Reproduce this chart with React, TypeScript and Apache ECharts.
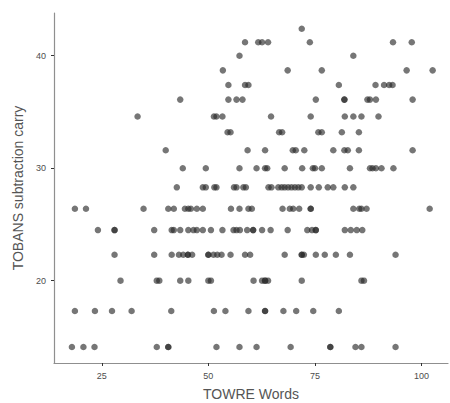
import React, { useEffect, useRef } from "react";
import * as echarts from "echarts";

// TOBANS score levels (y) and TOWRE word scores (x) per level
const level424 = [71.9];
const level412 = [58.6, 61.7, 62.6, 64.0, 73.8, 93.3, 97.7];
const level400 = [57.3, 84.0];
const level387 = [53.4, 68.6, 76.6, 96.5, 102.6];
const level374 = [54.7, 58.6, 59.4, 80.6, 89.2, 91.2, 92.4, 93.2];
const level361 = [43.4, 54.7, 56.6, 58.0, 75.2, 81.9, 81.9, 87.3, 87.9, 89.3, 97.9];
const level346 = [33.4, 51.3, 51.9, 53.3, 64.7, 74.0, 82.0, 84.0, 85.9, 89.9];
const level332 = [54.5, 55.2, 66.6, 67.3, 75.8, 76.6, 81.3, 85.3];
const level316 = [40.0, 59.2, 63.3, 69.8, 70.5, 72.5, 79.3, 81.9, 82.7, 85.3, 97.9];
const level300 = [44.0, 49.4, 57.3, 61.3, 63.3, 63.8, 67.9, 72.0, 74.5, 75.0, 76.6, 83.2, 87.9, 88.5, 89.3, 90.6, 93.4];
const level283 = [42.6, 48.7, 49.4, 51.4, 51.9, 56.0, 56.6, 58.2, 58.8, 64.1, 64.8, 66.4, 67.2, 67.9, 68.7, 69.5, 70.3, 71.1, 71.9, 74.0, 75.9, 78.0, 79.3, 82.0, 84.0];
const level264 = [18.7, 21.3, 34.8, 40.6, 41.9, 44.5, 45.3, 45.9, 47.3, 48.7, 55.3, 57.3, 59.4, 60.2, 67.4, 69.1, 69.9, 71.3, 74.0, 74.0, 84.0, 85.4, 85.9, 87.1, 101.9];
const level245 = [24.1, 28.0, 28.0, 37.3, 41.4, 41.9, 43.4, 45.3, 46.5, 47.3, 48.7, 50.6, 53.3, 55.9, 56.6, 57.4, 59.1, 60.5, 60.5, 62.6, 64.6, 68.6, 73.2, 74.3, 75.2, 75.2, 82.0, 83.4, 84.8, 86.1];
const level223 = [28.0, 37.3, 41.4, 43.1, 44.1, 45.2, 45.2, 46.2, 50.0, 50.0, 51.2, 52.1, 53.1, 55.2, 58.6, 59.8, 67.9, 71.9, 71.9, 72.4, 75.2, 77.3, 79.9, 83.2, 93.9];
const level200 = [29.4, 37.9, 38.5, 43.4, 45.3, 50.0, 50.6, 60.6, 62.6, 63.3, 63.3, 64.0, 71.9, 85.9, 86.5];
const level173 = [18.7, 23.4, 27.4, 32.0, 41.3, 51.3, 54.0, 59.4, 63.3, 63.3, 67.6, 70.6, 74.6, 80.6];
const level141 = [18.0, 20.7, 23.3, 37.9, 40.6, 40.6, 51.9, 57.3, 61.3, 69.3, 78.6, 78.6, 84.5, 85.9, 93.9];

const levels: [number, number[]][] = [
  [42.4, level424],
  [41.2, level412],
  [40.0, level400],
  [38.7, level387],
  [37.4, level374],
  [36.1, level361],
  [34.6, level346],
  [33.2, level332],
  [31.6, level316],
  [30.0, level300],
  [28.3, level283],
  [26.4, level264],
  [24.5, level245],
  [22.3, level223],
  [20.0, level200],
  [17.3, level173],
  [14.1, level141],
];

const xTicks = [25, 50, 75, 100];
const yTicks = [20, 30, 40];
const xTitle = "TOWRE Words";
const yTitle = "TOBANS subtraction carry";

export default function App() {
  const ref = useRef<HTMLDivElement>(null);
  useEffect(() => {
    if (!ref.current) return;
    const chart = echarts.init(ref.current, undefined, { renderer: "svg" });
    const data: number[][] = [];
    levels.forEach(([y, xs]) => xs.forEach((x) => data.push([x, y])));
    const axisColor = "#8f8f8f";
    const font = "Liberation Sans, Arial, sans-serif";
    chart.setOption({
      animation: false,
      grid: { left: 54, right: 2, top: 13, bottom: 40, containLabel: false, outerBoundsMode: "none" },
      xAxis: {
        type: "value",
        min: 13.8,
        max: 106.2,
        name: xTitle,
        nameLocation: "middle",
        nameGap: 24,
        nameTextStyle: { color: "#555", fontSize: 14, fontFamily: font, lineHeight: 14 },
        axisLine: { show: true, onZero: false, lineStyle: { color: axisColor, width: 1.2 } },
        axisTick: { show: true, length: 3, lineStyle: { color: "#333" }, customValues: xTicks },
        axisLabel: { color: "#4d4d4d", fontSize: 9, fontFamily: font, margin: 8, customValues: xTicks },
        splitLine: { show: false },
      },
      yAxis: {
        type: "value",
        min: 12.68,
        max: 43.8,
        name: yTitle,
        nameLocation: "middle",
        nameGap: 28,
        nameTextStyle: { color: "#555", fontSize: 14, fontFamily: font },
        axisLine: { show: true, onZero: false, lineStyle: { color: axisColor, width: 1.2 } },
        axisTick: { show: true, length: 3, lineStyle: { color: "#333" }, customValues: yTicks },
        axisLabel: { color: "#4d4d4d", fontSize: 9, fontFamily: font, margin: 8, customValues: yTicks },
        splitLine: { show: false },
      },
      series: [
        {
          type: "scatter",
          data,
          symbolSize: 6.5,
          itemStyle: { color: "rgba(40,40,40,0.8)" },
        },
      ],
    });
    return () => chart.dispose();
  }, []);
  return <div ref={ref} style={{ width: 450, height: 403, position: "absolute", left: 0, top: 0 }} />;
}
